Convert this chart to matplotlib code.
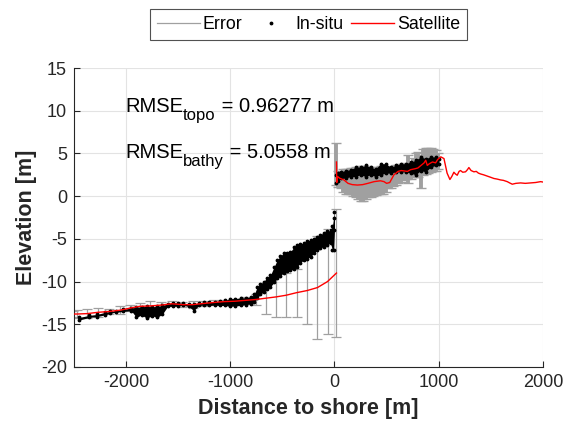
import numpy as np
import matplotlib
matplotlib.use("Agg")
import matplotlib.pyplot as plt
from matplotlib.lines import Line2D
from matplotlib import transforms

plt.rcParams['font.family'] = ['Liberation Sans', 'DejaVu Sans']
plt.rcParams['axes.unicode_minus'] = False

# ---- Satellite, bathymetry part (coarse) ----
sat_bathy_x = [-2510, -2470, -2370, -2270, -2160, -2055, -1960, -1870, -1766, -1660,
               -1560, -1460, -1360, -1260, -1160, -1060, -955, -855, -755, -660,
               -563, -464, -364, -262, -163, -67, 19]
sat_bathy_y = [-13.8, -13.8, -13.75, -13.6, -13.5, -13.35, -13.1, -12.9, -12.85, -12.75,
               -12.6, -12.7, -12.7, -12.57, -12.45, -12.35, -12.3, -12.2, -12.1, -11.95,
               -11.8, -11.6, -11.3, -11.05, -10.7, -10.0, -9.0]
sat_bathy_err = [0.4, 0.5, 0.5, 0.5, 0.3, 0.45, 0.3, 0.35, 0.6, 0.4,
                 0.3, 0.3, 0.4, 0.3, 0.3, 0.2, 0.3, 0.4, 0.6, 1.8,
                 2.3, 2.6, 2.8, 3.9, 6.0, 6.1, 7.5]

# ---- Satellite, topography part (fine) ----
sat_topo_x = [19, 22, 30, 50, 90, 130, 170, 220, 270, 320, 380, 440, 475, 500, 530, 570,
              610, 640, 700, 730, 770, 800, 830, 860, 875, 890, 910, 940, 970, 990,
              1020, 1050, 1080, 1107, 1125, 1145, 1160, 1177, 1195, 1209, 1230, 1257,
              1275, 1289, 1310, 1337, 1360, 1380, 1401, 1430, 1465, 1500, 1529, 1560,
              1593, 1620, 1657, 1680, 1705, 1740, 1785, 1830, 1881, 1930, 1977, 2000]
sat_topo_y = [4.0, 1.6, 2.3, 2.1, 1.9, 1.5, 1.35, 1.3, 1.35, 1.5, 1.7, 1.8, 1.7, 1.5, 1.6, 2.5,
              2.9, 3.0, 2.9, 3.1, 3.2, 3.3, 3.6, 3.9, 4.2, 3.6, 3.8, 4.0, 3.9, 4.3,
              4.6, 4.4, 2.7, 1.95, 2.3, 2.8, 2.6, 2.45, 2.9, 3.0, 2.8, 2.85,
              3.1, 3.35, 3.0, 2.85, 2.9, 2.7, 2.6, 2.5, 2.35, 2.2, 2.07, 2.0,
              1.9, 1.85, 1.7, 1.55, 1.4, 1.5, 1.55, 1.5, 1.55, 1.6, 1.7, 1.65]

# ---- Error bars in the topography part (lower / upper ends) ----
err_topo_x = [10, 34, 58, 82, 106, 130, 154, 178, 202, 226, 250, 274, 298, 322, 346, 370,
              394, 418, 442, 466, 490, 514, 538, 562, 586, 610, 634, 658, 682, 706, 730,
              754, 778, 802, 826, 850, 874, 898, 922, 946, 970, 994]
err_topo_lo = [1.3, 1.1, 0.9, 0.5, 0.3, 0.3, 0.2, 0.0, -0.1, -0.3, -0.55, -0.55, -0.3, -0.1, -0.1, 0.0,
               0.1, 0.2, 0.3, 0.3, 0.5, 0.9, 1.0, 1.2, 1.3, 1.5, 1.7, 1.9, 2.0, 1.5, 2.0,
               2.3, 2.3, 2.3, 0.9, 2.5, 2.6, 2.7, 2.8, 2.9, 3.0, 3.2]
err_topo_hi = [6.2, 3.0, 3.0, 3.2, 3.2, 3.2, 3.3, 3.3, 3.4, 3.4, 3.5, 3.5, 3.5, 3.4, 3.4, 3.3,
               3.3, 3.4, 3.5, 3.5, 3.4, 3.2, 3.3, 3.5, 3.6, 3.7, 3.8, 3.8, 3.9, 4.8, 4.0,
               4.5, 5.0, 5.2, 4.8, 5.5, 5.6, 5.6, 5.6, 5.5, 5.4, 5.0]

# ---- In-situ, bathymetry (band lower / upper) ----
ins_bathy_x = [-2450, -2350, -2280, -2200, -2150, -2100, -2025, -1950, -1900, -1850, -1800,
               -1750, -1700, -1650, -1600, -1550, -1500, -1450, -1400, -1350, -1300, -1250,
               -1200, -1150, -1100, -1050, -1000, -950, -900, -850, -800, -770, -740, -710,
               -680, -650, -614, -580, -550, -520, -489, -455, -422, -390, -358, -330, -297,
               -265, -230, -200, -166, -135, -105, -70, -38, -20, -8, 0]
ins_bathy_lo = [-14.5, -14.2, -14.1, -13.9, -13.7, -13.6, -13.5, -13.4, -14.2, -13.9, -14.3,
                -14.0, -14.2, -13.8, -12.9, -12.9, -12.85, -12.8, -12.9, -13.4, -12.8, -12.75,
                -12.8, -12.75, -12.8, -12.8, -12.9, -12.85, -12.8, -12.7, -12.6, -12.4, -11.9, -11.5,
                -11.2, -10.9, -10.6, -10.1, -9.6, -9.3, -9.0, -8.8, -8.7, -8.5, -8.3, -7.8, -7.5,
                -7.3, -7.1, -6.7, -6.3, -6.1, -5.9, -5.7, -5.5, -6.3, -6.3, -4.0]
ins_bathy_hi = [-14.2, -13.95, -13.85, -13.6, -13.5, -13.4, -13.25, -13.1, -13.0, -12.95, -12.9,
                -12.95, -12.9, -12.8, -12.6, -12.5, -12.5, -12.55, -12.6, -12.6, -12.55, -12.45,
                -12.4, -12.35, -12.3, -12.2, -12.0, -12.0, -11.9, -11.9, -11.8, -11.5, -10.6, -10.3,
                -10.0, -9.6, -9.25, -8.3, -7.5, -7.0, -6.7, -6.6, -6.5, -6.0, -5.7, -5.6, -5.5,
                -5.3, -5.1, -5.0, -4.8, -4.5, -4.3, -4.1, -4.0, -3.5, -2.5, -1.8]

# ---- In-situ, topography (band lower / upper) ----
ins_topo_x = [10, 30, 58, 106, 154, 202, 250, 298, 346, 394, 442, 490, 538, 586, 634,
              682, 730, 778, 826, 874, 922, 970, 1000]
ins_topo_lo = [1.5, 1.8, 2.1, 2.1, 2.3, 2.3, 2.5, 2.3, 2.5, 2.3, 2.5, 2.7, 2.7, 2.85, 2.85,
               2.85, 2.7, 2.5, 3.0, 2.85, 3.4, 3.6, 3.8]
ins_topo_hi = [2.5, 2.7, 2.85, 3.0, 3.1, 3.4, 3.4, 3.6, 3.4, 3.2, 3.8, 3.8, 3.4, 3.6, 3.8,
               3.8, 4.0, 4.2, 4.6, 4.4, 4.6, 4.6, 4.4]

xticks = [-2000, -1000, 0, 1000, 2000]
yticks = [-20, -15, -10, -5, 0, 5, 10, 15]

rmse_labels = [('topo', '0.96277'), ('bathy', '5.0558')]

err_color = '#a0a0a0'
axis_color = '#262626'

fig = plt.figure(figsize=(5.68, 4.32), dpi=100)
ax = fig.add_axes([0.130, 0.1505, 0.826, 0.692])

# error bars
ax.errorbar(sat_bathy_x, sat_bathy_y, yerr=sat_bathy_err, fmt='none',
            ecolor=err_color, elinewidth=0.9, capsize=3.5, capthick=0.9, zorder=2)
etl = np.array(err_topo_lo)
eth = np.array(err_topo_hi)
ax.errorbar(err_topo_x, (etl + eth) / 2, yerr=(eth - etl) / 2, fmt='none',
            ecolor=err_color, elinewidth=2.8, capsize=3.5, capthick=1.0, zorder=2)

# in-situ
for xs, lo, hi in [(ins_bathy_x, ins_bathy_lo, ins_bathy_hi),
                   (ins_topo_x, ins_topo_lo, ins_topo_hi)]:
    ax.fill_between(xs, lo, hi, color='black', lw=0, zorder=3)
    ax.plot(xs, lo, '.', color='black', ms=3.5, zorder=3)
    ax.plot(xs, hi, '.', color='black', ms=3.5, zorder=3)

# satellite
ax.plot(sat_bathy_x, sat_bathy_y, color='red', lw=1.0, zorder=4)
ax.plot(sat_topo_x, sat_topo_y, color='red', lw=1.0, zorder=4)

ax.set_xlim(-2500, 2000)
ax.set_ylim(-20, 15)
ax.set_xticks(xticks)
ax.set_yticks(yticks)
ax.tick_params(direction='in', length=4, width=0.8, colors=axis_color, labelsize=13,
               labelcolor='#262626', pad=5)
ax.grid(True, color='#e3e3e3', lw=0.8)
ax.set_axisbelow(True)
for s in ['top', 'right']:
    ax.spines[s].set_visible(False)
for s in ['left', 'bottom']:
    ax.spines[s].set_color(axis_color)
    ax.spines[s].set_linewidth(0.8)

ax.set_xlabel('Distance to shore [m]', fontsize=15.5, fontweight='bold', color='#262626', labelpad=5)
ax.set_ylabel('Elevation [m]', fontsize=15.5, fontweight='bold', color='#262626', labelpad=3)

# RMSE annotations with MATLAB-like subscripts
renderer = fig.canvas.get_renderer()
for (sub, val), ybase in zip(rmse_labels, [9.8, 4.5]):
    t1 = ax.text(-2010, ybase, 'RMSE', fontsize=14.5, color='black', va='baseline')
    w1 = t1.get_window_extent(renderer).width
    tr2 = transforms.offset_copy(ax.transData, fig=fig, x=w1, y=-8, units='dots')
    t2 = ax.text(-2010, ybase, sub, fontsize=12, color='black', va='baseline', transform=tr2)
    w2 = t2.get_window_extent(renderer).width
    tr3 = transforms.offset_copy(ax.transData, fig=fig, x=w1 + w2, y=0, units='dots')
    ax.text(-2010, ybase, ' = ' + val + ' m', fontsize=14.5, color='black', va='baseline',
            transform=tr3)

handles = [Line2D([], [], color=err_color, lw=0.9),
           Line2D([], [], color='black', marker='.', ls='none', ms=3.5),
           Line2D([], [], color='red', lw=1.0)]
leg = fig.legend(handles, ['Error', 'In-situ', 'Satellite'], loc='center',
                 bbox_to_anchor=(0.543, 0.943), ncol=3, fontsize=12.8, frameon=True,
                 fancybox=False, edgecolor='#262626', handlelength=2.4, columnspacing=0.45,
                 handletextpad=0.15, borderpad=0.4, borderaxespad=0)
leg.get_frame().set_linewidth(0.8)

fig.savefig('out.png', dpi=100)
